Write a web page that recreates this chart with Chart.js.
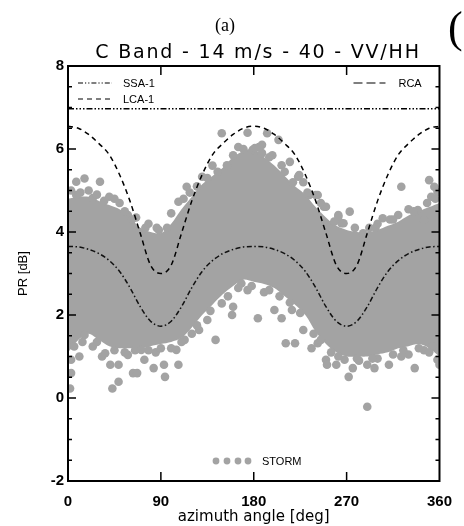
<!DOCTYPE html>
<html>
<head>
<meta charset="utf-8">
<script src="https://cdn.jsdelivr.net/npm/chart.js@4.4.1/dist/chart.umd.min.js"></script>
<style>
    html, body { margin: 0; padding: 0; background: #fff; }
</style>
</head>
<body>
<canvas id="chartCanvas" width="464" height="526"></canvas>
<script>
// azimuth grid for the model curves and the storm cloud envelope
const angles = [0, 10, 20, 30, 40, 50, 60, 70, 80, 90, 100, 110, 120, 130, 140, 150, 160, 170, 180,
    190, 200, 210, 220, 230, 240, 250, 260, 270, 280, 290, 300, 310, 320, 330, 340, 350, 360];

const ssa1 = [6.97, 6.97, 6.97, 6.97, 6.97, 6.97, 6.97, 6.97, 6.97, 6.97, 6.97, 6.97, 6.97, 6.97, 6.97, 6.97, 6.97, 6.97, 6.97,
    6.97, 6.97, 6.97, 6.97, 6.97, 6.97, 6.97, 6.97, 6.97, 6.97, 6.97, 6.97, 6.97, 6.97, 6.97, 6.97, 6.97, 6.97];

const lca1 = [6.55, 6.5, 6.35, 6.13, 5.86, 5.38, 4.75, 3.97, 3.2, 3.0, 3.2, 3.97, 4.75, 5.38, 5.86, 6.13, 6.35, 6.5, 6.55,
    6.5, 6.35, 6.13, 5.86, 5.38, 4.75, 3.97, 3.2, 3.0, 3.2, 3.97, 4.75, 5.38, 5.86, 6.13, 6.35, 6.5, 6.55];

const rca = [3.65, 3.64, 3.58, 3.48, 3.31, 3.05, 2.66, 2.2, 1.85, 1.73, 1.85, 2.2, 2.66, 3.05, 3.31, 3.48, 3.58, 3.64, 3.65,
    3.64, 3.58, 3.48, 3.31, 3.05, 2.66, 2.2, 1.85, 1.73, 1.85, 2.2, 2.66, 3.05, 3.31, 3.48, 3.58, 3.64, 3.65];

// dense part of the STORM cloud (upper and lower edge)
const stormTop = [4.8, 4.85, 4.85, 4.75, 4.65, 4.55, 4.35, 4.1, 4.0, 3.97, 4.2, 4.55, 4.85, 5.15, 5.35, 5.55, 5.8, 5.95, 6.0,
    5.8, 5.6, 5.35, 5.1, 4.9, 4.6, 4.35, 4.15, 4.05, 4.0, 4.0, 4.05, 4.15, 4.25, 4.4, 4.5, 4.6, 4.7];
const stormBottom = [1.1, 1.4, 1.55, 1.4, 1.25, 1.2, 1.2, 1.2, 1.25, 1.3, 1.35, 1.45, 1.7, 2.0, 2.25, 2.5, 2.7, 2.85, 2.8,
    2.75, 2.65, 2.45, 2.25, 2.0, 1.6, 1.3, 1.1, 1.0, 1.0, 1.0, 1.05, 1.1, 1.2, 1.25, 1.3, 1.2, 1.0];

// loose STORM points outside the dense part [azimuth, PR]
const stormLoose = [
    [8, 5.21], [16, 5.29], [31, 5.21], [8, 4.89], [24, 4.82], [3, 5.0], [40, 4.85], [58, 4.41], [86, 4.1], [96, 4.1],
    [107, 4.73], [115, 5.09], [130, 5.33], [149, 6.38], [174, 6.39], [193, 6.38], [204, 6.22], [188, 6.1], [179, 5.98],
    [215, 5.69], [154, 5.61], [224, 5.37], [240, 4.89], [248, 4.61], [262, 4.41], [273, 4.49], [265, 4.21], [181, 6.02],
    [188, 5.9], [207, 5.61], [223, 5.33], [234, 4.89], [242, 4.89], [250, 4.61], [262, 4.37], [267, 4.21], [286, 3.97],
    [305, 4.33], [320, 4.41], [323, 5.09], [339, 4.53], [350, 5.25], [355, 5.09], [358, 4.97], [345, 4.29], [160, 5.85],
    [165, 6.05], [140, 5.6], [125, 5.1], [112, 4.8], [100, 4.45], [78, 4.2], [66, 4.35], [50, 4.7], [45, 4.8], [20, 5.0],
    [12, 4.95], [300, 4.2], [292, 4.1], [312, 4.3], [330, 4.55], [352, 4.85], [228, 5.2], [198, 5.85],
    [3, 0.92], [3, 0.6], [2, 0.23], [11, 1.0], [24, 1.24], [33, 1.0], [41, 0.8], [43, 0.23], [49, 0.39], [49, 0.8],
    [58, 1.04], [63, 0.6], [67, 0.6], [74, 0.92], [83, 0.72], [93, 0.8], [94, 0.51], [107, 0.8], [105, 1.16], [113, 1.4],
    [127, 1.64], [135, 1.88], [143, 1.4], [149, 2.28], [159, 2.0], [160, 2.2], [168, 2.76], [174, 2.6], [184, 1.92],
    [207, 1.92], [200, 2.12], [217, 2.12], [228, 1.64], [211, 1.32], [220, 1.32], [236, 1.2], [242, 1.32], [250, 0.92],
    [251, 0.8], [260, 0.8], [268, 0.92], [276, 0.72], [272, 0.51], [290, 0.8], [297, 0.72], [290, -0.21], [311, 0.8],
    [323, 1.0], [336, 0.72], [353, 1.24], [358, 0.92], [16, 1.52], [6, 1.24], [36, 1.08], [71, 1.16], [85, 1.1],
    [100, 1.2], [120, 1.55], [190, 2.55], [255, 1.1], [282, 0.9], [300, 0.95], [330, 1.05], [345, 1.15], [360, 0.8]
];

// STORM points sitting on the ragged edge of the dense part [azimuth, PR]
const stormEdge = [
    [28, 4.9], [35, 4.75], [55, 4.5], [62, 4.3], [75, 4.1], [88, 4.05], [118, 4.95], [135, 5.3], [145, 5.45], [170, 6.0],
    [185, 6.05], [195, 5.8], [210, 5.45], [218, 5.2], [232, 4.95], [245, 4.7], [258, 4.25], [278, 4.1], [298, 4.1],
    [315, 4.3], [335, 4.5], [348, 4.7], [356, 4.8],
    [14, 1.35], [28, 1.35], [45, 1.15], [55, 1.1], [65, 1.15], [78, 1.15], [90, 1.2], [110, 1.35], [125, 1.75], [138, 2.1],
    [155, 2.45], [165, 2.65], [178, 2.7], [195, 2.6], [205, 2.45], [215, 2.3], [225, 2.05], [238, 1.55], [245, 1.4],
    [262, 1.0], [280, 0.95], [295, 0.95], [315, 1.05], [325, 1.15], [340, 1.2], [350, 1.1]
];

const xTicks = [0, 90, 180, 270, 360];
const yTicks = [-2, 0, 2, 4, 6, 8];

const gray = "#a3a3a3";

function toXY(values) {
    return angles.map((a, i) => ({ x: a, y: values[i] }));
}

// titles, in-plot legend, frame and inward ticks
const decorations = {
    id: "decorations",
    afterDraw(chart) {
        const ctx = chart.ctx;
        const area = chart.chartArea;
        const xs = chart.scales.x;
        const ys = chart.scales.y;

        ctx.save();
        ctx.fillStyle = "#000";
        ctx.textBaseline = "middle";
        ctx.textAlign = "center";
        ctx.font = "18px 'Liberation Serif', serif";
        ctx.fillText("(a)", 225, 26);
        ctx.font = "44px 'Liberation Serif', serif";
        ctx.textAlign = "left";
        ctx.fillText("(", 448, 30);

        ctx.font = "19px 'DejaVu Sans', sans-serif";
        ctx.letterSpacing = "1.8px";
        ctx.textAlign = "center";
        ctx.fillText("C Band - 14 m/s - 40 - VV/HH", 258, 53);
        ctx.letterSpacing = "0px";

        // frame
        ctx.strokeStyle = "#000";
        ctx.lineWidth = 2;
        ctx.strokeRect(area.left, area.top, area.right - area.left, area.bottom - area.top);

        // inward ticks
        ctx.lineWidth = 1.5;
        ctx.beginPath();
        xTicks.slice(1, -1).forEach(v => {
            const px = xs.getPixelForValue(v);
            ctx.moveTo(px, area.bottom); ctx.lineTo(px, area.bottom - 9);
            ctx.moveTo(px, area.top); ctx.lineTo(px, area.top + 9);
        });
        for (let v = ys.min + 0.5; v < ys.max; v += 0.5) {
            const py = ys.getPixelForValue(v);
            const len = (Math.abs(v % 2) < 1e-6) ? 8 : 4;
            ctx.moveTo(area.left, py); ctx.lineTo(area.left + len, py);
            ctx.moveTo(area.right, py); ctx.lineTo(area.right - len, py);
        }
        ctx.stroke();

        // legend
        ctx.font = "11px 'Liberation Sans', sans-serif";
        ctx.textAlign = "left";
        ctx.lineWidth = 1.2;
        const legendLine = (x1, x2, y, dash, label, tx) => {
            ctx.setLineDash(dash);
            ctx.beginPath();
            ctx.moveTo(x1, y); ctx.lineTo(x2, y);
            ctx.stroke();
            ctx.setLineDash([]);
            ctx.fillText(label, tx, y + 1);
        };
        legendLine(area.left + 10, area.left + 44, area.top + 17, [5, 2, 1.2, 2, 1.2, 2], "SSA-1", area.left + 55);
        legendLine(area.left + 10, area.left + 44, area.top + 33, [5, 4], "LCA-1", area.left + 55);
        legendLine(area.right - 86, area.right - 54, area.top + 17, [9, 4], "RCA", area.right - 41);

        ctx.fillStyle = gray;
        [216, 227, 238, 248].forEach(px => {
            ctx.beginPath();
            ctx.arc(px, area.bottom - 20, 3.4, 0, Math.PI * 2);
            ctx.fill();
        });
        ctx.fillStyle = "#000";
        ctx.fillText("STORM", 262, area.bottom - 19);
        ctx.restore();
    }
};

const ctx = document.getElementById("chartCanvas").getContext("2d");

new Chart(ctx, {
    type: "scatter",
    data: {
        datasets: [
            {
                label: "SSA-1",
                data: toXY(ssa1),
                showLine: true,
                pointRadius: 0,
                borderColor: "#000",
                borderWidth: 1.5,
                borderDash: [6, 2, 1.5, 2, 1.5, 2, 1.5, 2]
            },
            {
                label: "LCA-1",
                data: toXY(lca1),
                showLine: true,
                pointRadius: 0,
                borderColor: "#000",
                borderWidth: 1.5,
                borderDash: [5, 4],
                cubicInterpolationMode: "monotone"
            },
            {
                label: "RCA",
                data: toXY(rca),
                showLine: true,
                pointRadius: 0,
                borderColor: "#111",
                borderWidth: 1.5,
                borderDash: [5, 2.5, 1.5, 2.5],
                cubicInterpolationMode: "monotone"
            },
            {
                label: "STORM",
                data: stormLoose.concat(stormEdge).map(p => ({ x: p[0], y: p[1] })),
                pointRadius: 4.3,
                pointBackgroundColor: gray,
                pointBorderWidth: 0
            },
            {
                label: "STORM dense top",
                data: toXY(stormTop),
                showLine: true,
                pointRadius: 0,
                borderColor: "rgba(0,0,0,0)",
                borderWidth: 0,
                backgroundColor: gray,
                fill: "+1",
                tension: 0.3
            },
            {
                label: "STORM dense bottom",
                data: toXY(stormBottom),
                showLine: true,
                pointRadius: 0,
                borderColor: "rgba(0,0,0,0)",
                borderWidth: 0,
                fill: false,
                tension: 0.3
            }
        ]
    },
    options: {
        responsive: false,
        animation: false,
        layout: { padding: { top: 66, right: 13, left: 0, bottom: 0 } },
        plugins: {
            legend: { display: false },
            tooltip: { enabled: false }
        },
        scales: {
            x: {
                min: 0,
                max: 360,
                afterBuildTicks: axis => { axis.ticks = xTicks.map(v => ({ value: v })); },
                afterFit: axis => { axis.height = 45; },
                grid: { display: false, drawTicks: false },
                border: { display: false },
                ticks: {
                    color: "#000",
                    padding: 12,
                    maxRotation: 0,
                    font: { family: "'Liberation Sans', sans-serif", size: 15, weight: "bold" }
                },
                title: {
                    display: true,
                    text: "azimuth angle [deg]",
                    color: "#000",
                    padding: { top: 0, bottom: 0 },
                    font: { family: "'DejaVu Sans', sans-serif", size: 15 }
                }
            },
            y: {
                min: -2,
                max: 8,
                afterBuildTicks: axis => { axis.ticks = yTicks.map(v => ({ value: v })); },
                afterFit: axis => { axis.width = 68; },
                grid: { display: false, drawTicks: false },
                border: { display: false },
                ticks: {
                    color: "#000",
                    padding: 4,
                    font: { family: "'Liberation Sans', sans-serif", size: 15, weight: "bold" }
                },
                title: {
                    display: true,
                    text: "PR [dB]",
                    color: "#000",
                    padding: { top: 16, bottom: 0 },
                    font: { family: "'Liberation Sans', sans-serif", size: 13 }
                }
            }
        }
    },
    plugins: [decorations]
});
</script>
</body>
</html>
